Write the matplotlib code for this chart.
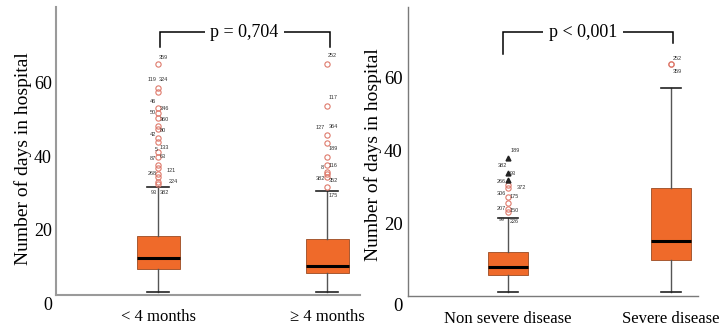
import matplotlib
matplotlib.use("Agg")
import matplotlib.pyplot as plt
from matplotlib.transforms import ScaledTranslation

# ---- data ----
# left panel: age at admission
age_groups = ["< 4 months", "\u2265 4 months"]
age_q1 = [9.3, 8.2]
age_med = [12.3, 10.1]
age_q3 = [18.3, 17.4]
age_whislo = [3.0, 3.0]
age_whishi = [31.7, 30.5]
age_fliers_lt4 = [65, 58.7, 57.5, 53.2, 51.7, 50.4, 48.2, 47.4, 45, 43.9,
                  41.1, 39.8, 37.6, 36.8, 35.1, 34.3, 33, 32.4]
age_fliers_ge4 = [65, 53.7, 45.7, 43.6, 39.7, 37.6, 35.7, 35.2, 34.4, 31.6]

# right panel: disease severity
sev_groups = ["Non severe disease", "Severe disease"]
sev_q1 = [5.8, 10.0]
sev_med = [8.0, 15.0]
sev_q3 = [12.0, 29.5]
sev_whislo = [1.0, 1.0]
sev_whishi = [21.4, 57.0]
sev_fliers_non = [30.4, 29.6, 27.0, 25.5, 23.8, 23.0]
sev_fliers_sev = [63.5, 63.5]
sev_extremes_non = [37.8, 33.7, 31.8]

# case-number labels next to the outliers: (text, y value)
lbl_lt4 = ["359", "119", "324", "46", "346", "50", "360", "42", "80", "5",
           "133", "87", "63", "268", "121", "224", "93", "382"]
lbl_lt4_y = [67, 60.8, 60.8, 55, 53, 51.8, 50, 45.8, 46.9, 41.7,
             42.5, 39.5, 39.8, 35.4, 36.2, 33, 30.2, 30.2]
lbl_ge4 = ["252", "117", "127", "364", "189", "8", "116", "382", "352", "175"]
lbl_ge4_y = [67.3, 56, 47.7, 48, 42, 36.8, 37.6, 33.8, 33.5, 29.4]
lbl_non = ["189", "382", "93", "266", "372", "306", "175", "207", "150", "99", "226"]
lbl_non_y = [40, 35.9, 33.7, 31.5, 29.6, 28.2, 27.4, 24.1, 23.3, 21.1, 20.3]
lbl_sev = ["252", "359"]
lbl_sev_y = [65.2, 61.4]

# label x offsets in pixels from the box centre (layout only)
dx_lt4 = [1, -10, 1, -8, 2, -8, 2, -8, 2, -3, 2, -8, 2, -10, 9, 11, -7, 2]
dx_ge4 = [1, 2, -11, 2, 2, -6, 2, -11, 2, 2]
dx_non = [3, -10, 2, -11, 9, -11, 2, -11, 2, -9, 2]
dx_sev = [2, 2]

BOX = "#EF6A2A"
FLIER = "#DE7A6C"
SERIF = ["Liberation Serif", "DejaVu Serif"]


def stats(q1, med, q3, lo, hi, fliers):
    return [dict(q1=a, med=b, q3=c, whislo=d, whishi=e, fliers=f)
            for a, b, c, d, e, f in zip(q1, med, q3, lo, hi, fliers)]


def draw_boxes(ax, st, width):
    ax.bxp(st, positions=[1, 2], widths=width, patch_artist=True,
           boxprops=dict(facecolor=BOX, edgecolor="#9A4A22", linewidth=0.6),
           medianprops=dict(color="black", linewidth=2.2),
           whiskerprops=dict(color="#555555", linewidth=1.0),
           capprops=dict(color="#222222", linewidth=1.2),
           capwidths=width * 0.5,
           flierprops=dict(marker="o", markersize=3.8, markerfacecolor="none",
                           markeredgecolor=FLIER, markeredgewidth=0.8))


def label_points(ax, pos, texts, ys, dxs):
    for t, y, dx in zip(texts, ys, dxs):
        ax.annotate(t, xy=(pos, y), xytext=(dx * 0.72, 0), textcoords="offset points",
                    ha="left", va="center", fontsize=4.0, color="#333333",
                    family="Liberation Sans")


def bracket(ax, x0, x1, ytop, y0, y1, text, tx):
    ax.plot([x0, x0, x1, x1], [y0, ytop, ytop, y1], color="black", lw=1.1,
            solid_joinstyle="miter")
    ax.text(tx, ytop, text, ha="center", va="center", fontsize=13, family=SERIF,
            bbox=dict(facecolor="white", edgecolor="none", pad=4))


def style(ax, ylim, spine_y, spine_color, spine_lw, tick_fs, tick_pad, xpad):
    ax.set_ylim(*ylim)
    for s in ("top", "right"):
        ax.spines[s].set_visible(False)
    ax.spines["bottom"].set_position(("data", spine_y))
    ax.spines["left"].set_bounds(spine_y, ylim[1])
    for s in ("left", "bottom"):
        ax.spines[s].set_color(spine_color)
        ax.spines[s].set_linewidth(spine_lw)
    ax.set_yticks([0, 20, 40, 60])
    ax.tick_params(axis="y", length=0, pad=tick_pad, labelsize=tick_fs)
    ax.tick_params(axis="x", length=0, pad=xpad, labelsize=12)
    for lab in ax.get_yticklabels() + ax.get_xticklabels():
        lab.set_family(SERIF)
    ax.set_ylabel("Number of days in hospital", fontsize=14, family=SERIF)


fig = plt.figure(figsize=(7.19, 3.27), dpi=100)
W, H = 719.0, 327.0

# ---- left panel ----
ax1 = fig.add_axes([56 / W, (H - 305) / H, 304 / W, 298 / H])
ax1.set_xlim(0.396, 2.195)
draw_boxes(ax1, stats(age_q1, age_med, age_q3, age_whislo, age_whishi,
                      [age_fliers_lt4, age_fliers_ge4]), 0.254)
ax1.set_xticks([1, 2], age_groups)
style(ax1, (-0.54, 80.65), 2.2, "#9a9a9a", 1.5, 13, 3, 10)
ax1.yaxis.set_label_coords(-0.08, 0.49)
label_points(ax1, 1, lbl_lt4, lbl_lt4_y, dx_lt4)
label_points(ax1, 2, lbl_ge4, lbl_ge4_y, dx_ge4)
bracket(ax1, 1.01, 2.02, 73.8, 69.8, 69.8, "p = 0,704", 1.51)

# ---- right panel ----
ax2 = fig.add_axes([408 / W, (H - 306) / H, 290 / W, 299 / H])
ax2.set_xlim(0.387, 2.166)
draw_boxes(ax2, stats(sev_q1, sev_med, sev_q3, sev_whislo, sev_whishi,
                      [sev_fliers_non, sev_fliers_sev]), 0.245)
ax2.plot([1] * len(sev_extremes_non), sev_extremes_non, linestyle="none",
         marker="^", markersize=3.5, color="#222222")
ax2.set_xticks([1, 2], sev_groups)
style(ax2, (-2.74, 79.2), 0.0, "#7a7a7a", 1.0, 13.5, 4, 11)
ax2.yaxis.set_label_coords(-0.09, 0.505)
label_points(ax2, 1, lbl_non, lbl_non_y, dx_non)
label_points(ax2, 2, lbl_sev, lbl_sev_y, dx_sev)
bracket(ax2, 0.97, 2.01, 72.3, 66.3, 69.3, "p < 0,001", 1.46)

# the "0" of the right panel sits a little below its axis line in the reference
zero_lab = ax2.yaxis.get_major_ticks()[0].label1
zero_lab.set_transform(zero_lab.get_transform()
                       + ScaledTranslation(0, -8 / 100, fig.dpi_scale_trans))

fig.savefig("out.png", dpi=100)
